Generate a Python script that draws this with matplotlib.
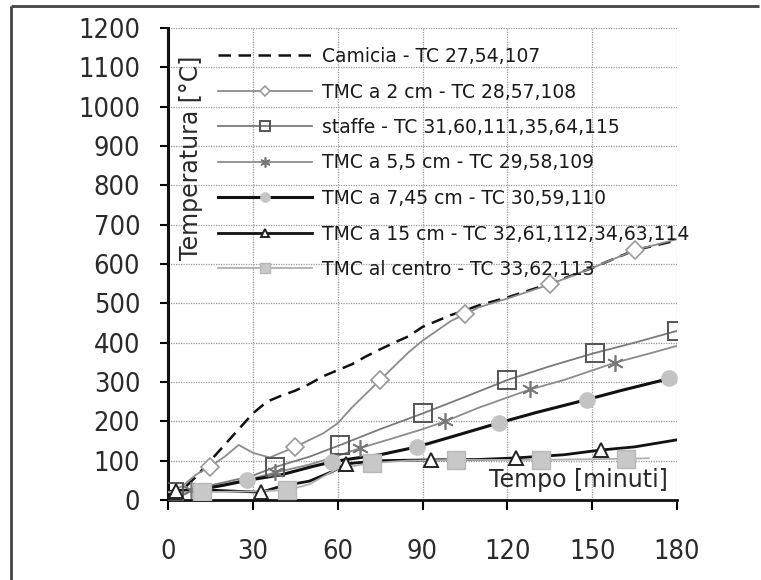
import matplotlib.pyplot as plt
from matplotlib.lines import Line2D

# curve data: time [min] vs temperature [°C]
t_camicia = [0, 5, 10, 15, 20, 25, 30, 35, 40, 45, 50, 55, 60, 65, 70, 75, 80, 85,
             90, 95, 100, 105, 110, 120, 135, 150, 165, 180]
T_camicia = [20, 25, 60, 100, 140, 180, 220, 250, 265, 278, 295, 315, 330, 345, 365,
             383, 400, 416, 440, 455, 470, 482, 495, 515, 550, 590, 635, 660]

t_2cm = [0, 5, 10, 15, 20, 25, 30, 36, 45, 55, 60, 65, 70, 75, 80, 85, 90, 95, 100,
         105, 110, 120, 135, 150, 165, 180]
T_2cm = [20, 35, 65, 85, 110, 140, 120, 108, 135, 170, 195, 235, 270, 305, 340, 375,
         405, 430, 455, 472, 490, 512, 548, 590, 635, 663]
tm_2cm = [15, 45, 75, 105, 135, 165]
Tm_2cm = [85, 135, 305, 472, 548, 635]

t_staffe = [0, 10, 20, 30, 38, 50, 61, 75, 90, 105, 120, 135, 150, 165, 180]
T_staffe = [20, 30, 45, 62, 84, 110, 140, 180, 220, 262, 305, 340, 372, 400, 430]
tm_staffe = [2, 38, 61, 90, 120, 151, 180]
Tm_staffe = [20, 84, 140, 220, 305, 374, 430]

t_55cm = [0, 8, 20, 30, 38, 50, 60, 68, 80, 90, 98, 110, 128, 140, 158, 170, 180]
T_55cm = [20, 25, 40, 55, 70, 90, 112, 132, 158, 180, 200, 235, 281, 305, 349, 372, 392]
tm_55cm = [8, 38, 68, 98, 128, 158]
Tm_55cm = [25, 70, 132, 200, 281, 349]

t_745cm = [0, 10, 20, 28, 40, 51, 58, 65, 75, 88, 100, 117, 130, 148, 160, 178]
T_745cm = [20, 25, 38, 50, 64, 85, 97, 105, 115, 135, 160, 196, 222, 255, 278, 310]
tm_745cm = [28, 58, 88, 117, 148, 177]
Tm_745cm = [50, 97, 135, 196, 255, 309]

t_15cm = [0, 5, 15, 25, 33, 40, 50, 58, 63, 75, 93, 110, 123, 140, 153, 165, 180]
T_15cm = [20, 25, 25, 22, 20, 35, 48, 72, 92, 100, 102, 103, 107, 115, 127, 135, 153]
tm_15cm = [3, 33, 63, 93, 123, 153]
Tm_15cm = [24, 20, 92, 102, 107, 127]

t_centro = [0, 12, 30, 42, 50, 60, 72, 85, 102, 132, 162, 170]
T_centro = [20, 20, 22, 25, 40, 80, 94, 100, 102, 102, 105, 106]
tm_centro = [12, 42, 72, 102, 132, 162]
Tm_centro = [20, 25, 94, 102, 102, 105]

labels = ["Camicia - TC 27,54,107",
          "TMC a 2 cm - TC 28,57,108",
          "staffe - TC 31,60,111,35,64,115",
          "TMC a 5,5 cm - TC 29,58,109",
          "TMC a 7,45 cm - TC 30,59,110",
          "TMC a 15 cm - TC 32,61,112,34,63,114",
          "TMC al centro - TC 33,62,113"]

x_ticks = [0, 30, 60, 90, 120, 150, 180]
y_ticks = list(range(0, 1300, 100))

fig = plt.figure(figsize=(7.61, 5.8), dpi=100)
ax = fig.add_axes([168 / 761, 1 - 500 / 580, (677 - 168) / 761, (500 - 28) / 580])

# line style, marker style for each curve
styles = [
    dict(color="#111111", lw=1.8, ls=(0, (5, 3)), marker=None),
    dict(color="#8c8c8c", lw=1.3, ls="-", marker="D", ms=9, mfc="white", mec="#9a9a9a", mew=1.2),
    dict(color="#7a7a7a", lw=1.3, ls="-", marker="s", ms=13, mfc="none", mec="#555555", mew=1.4),
    dict(color="#8c8c8c", lw=1.3, ls="-", marker=(6, 2, 0), ms=12, mfc="none", mec="#777777", mew=1.2),
    dict(color="#111111", lw=2.2, ls="-", marker="o", ms=11, mfc="#c4c4c4", mec="#c4c4c4", mew=1),
    dict(color="#111111", lw=2.0, ls="-", marker="^", ms=10, mfc="white", mec="#222222", mew=1.4),
    dict(color="#b0b0b0", lw=1.3, ls="-", marker="s", ms=13, mfc="#c8c8c8", mec="#b8b8b8", mew=1),
]

lines = [(t_camicia, T_camicia, None, None),
         (t_2cm, T_2cm, tm_2cm, Tm_2cm),
         (t_staffe, T_staffe, tm_staffe, Tm_staffe),
         (t_55cm, T_55cm, tm_55cm, Tm_55cm),
         (t_745cm, T_745cm, tm_745cm, Tm_745cm),
         (t_15cm, T_15cm, tm_15cm, Tm_15cm),
         (t_centro, T_centro, tm_centro, Tm_centro)]

handles = []
for (t, T, tm, Tm), st, lab in zip(lines, styles, labels):
    ax.plot(t, T, color=st["color"], lw=st["lw"], ls=st["ls"], zorder=3)
    if tm is not None:
        ax.plot(tm, Tm, ls="none", marker=st["marker"], ms=st["ms"], mfc=st["mfc"],
                mec=st["mec"], mew=st["mew"], zorder=4)
        handles.append(Line2D([], [], color=st["color"], lw=st["lw"], ls=st["ls"],
                              marker=st["marker"], ms=st["ms"] * 0.6, mfc=st["mfc"],
                              mec=st["mec"], mew=st["mew"]))
    else:
        handles.append(Line2D([], [], color=st["color"], lw=st["lw"], ls=st["ls"]))

ax.set_xlim(0, 180)
ax.set_ylim(0, 1200)
ax.set_xticks(x_ticks)
ax.set_yticks(y_ticks)
ax.grid(True, color="#9a9a9a", ls=(0, (1, 1)), lw=0.9)
ax.set_axisbelow(True)

for s in ["top", "right"]:
    ax.spines[s].set_visible(False)
ax.spines["left"].set_linewidth(2.2)
ax.spines["bottom"].set_linewidth(2.0)
ax.spines["left"].set_color("#111111")
ax.spines["bottom"].set_color("#111111")

ax.tick_params(axis="y", direction="out", length=6, width=1.5, pad=14,
               labelsize=19.5, labelcolor="#2a2a2a")
ax.tick_params(axis="x", direction="out", length=7, width=1.5, pad=21,
               labelsize=19.5, labelcolor="#2a2a2a")
for lab in ax.get_xticklabels() + ax.get_yticklabels():
    lab.set_fontstretch("condensed")

fig.text(191 / 761, 1 - 158 / 580, "Temperatura [°C]", rotation=90, ha="center",
         va="center", fontsize=17, color="#2a2a2a")
fig.text(668 / 761, 1 - 480 / 580, "Tempo [minuti]", ha="right", va="center",
         fontsize=17, color="#2a2a2a")

ax.legend(handles, labels, loc="upper left", bbox_to_anchor=(218 / 761, 1 - 47 / 580),
          bbox_transform=fig.transFigure, frameon=False, fontsize=13.5, borderpad=0,
          handlelength=5.0, handletextpad=0.55, labelspacing=0.88, borderaxespad=0,
          labelcolor="#1a1a1a")

# page border: top and left edges only
fig.add_artist(Line2D([11 / 761, 0.998], [1 - 6 / 580, 1 - 6 / 580], color="#444444",
                      lw=2, solid_capstyle="butt", transform=fig.transFigure))
fig.add_artist(Line2D([11 / 761, 11 / 761], [0, 1 - 6 / 580], color="#444444", lw=2,
                      solid_capstyle="butt", transform=fig.transFigure))

fig.savefig("out.png", dpi=100)
